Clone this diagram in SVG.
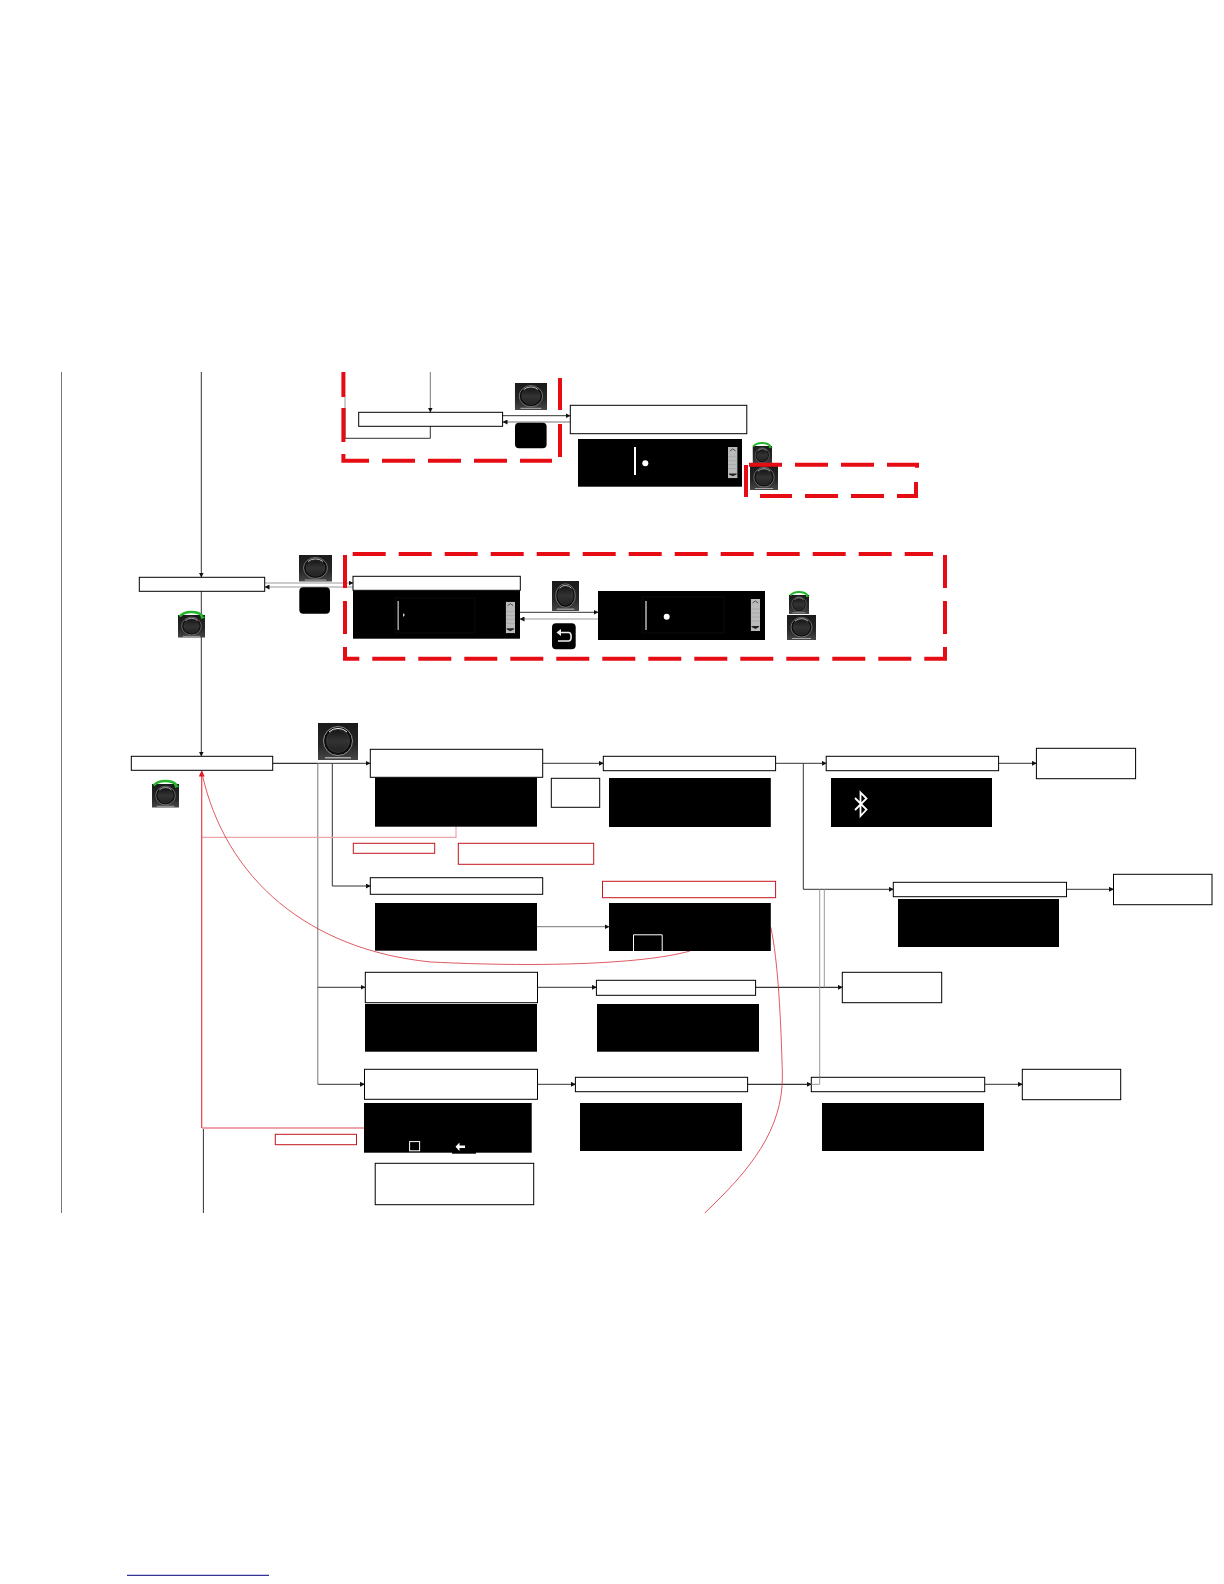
<svg xmlns="http://www.w3.org/2000/svg" width="1224" height="1584" viewBox="0 0 1224 1584">
<style>
.b{fill:#fff;stroke:#000;stroke-width:1}
.r{fill:#fff;stroke:#c4161c;stroke-width:1}
.s{fill:#000}
.c{fill:none;stroke:#333;stroke-width:1}
.g{fill:none;stroke:#999;stroke-width:1}
.k{fill:none;stroke:#000;stroke-width:1}
.p{fill:none;stroke:#eda5ab;stroke-width:1.2}
.rl{fill:none;stroke:#d8303a;stroke-width:.8}
.d{fill:none;stroke:#e60c14;stroke-width:4;stroke-dasharray:33 13}
.w{fill:#fff}
</style>
<defs>
<marker id="a" markerWidth="5" markerHeight="5" refX="4.5" refY="2.5" orient="auto" markerUnits="userSpaceOnUse"><path d="M0,0L5,2.5L0,5z" fill="#111"/></marker>
<marker id="ar" markerWidth="6" markerHeight="6" refX="5.5" refY="3" orient="auto" markerUnits="userSpaceOnUse"><path d="M0,0L6,3L0,6z" fill="#e8101c"/></marker>
<linearGradient id="kg" x1="0" y1="0" x2="0" y2="1"><stop offset="0" stop-color="#151515"/><stop offset=".5" stop-color="#333"/><stop offset="1" stop-color="#222"/></linearGradient>
<linearGradient id="kb" x1="0" y1="0" x2="0" y2="1"><stop offset="0" stop-color="#1a1a1a"/><stop offset=".6" stop-color="#262626"/><stop offset="1" stop-color="#474747"/></linearGradient>
<symbol id="knob" viewBox="0 0 40 37" preserveAspectRatio="none">
<rect width="40" height="37" fill="url(#kb)"/>
<circle cx="20" cy="18" r="14.5" fill="#0c0c0c" stroke="#8f8f8f" stroke-width="1"/>
<circle cx="20" cy="18" r="11.5" fill="url(#kg)" stroke="#444" stroke-width=".6"/>
<path d="M11,9A13,13 0 0 1 29,9" fill="none" stroke="#eee" stroke-width="1"/>
<rect x="7" y="34" width="26" height="1.5" fill="#aaa"/>
</symbol>
<symbol id="scroll" viewBox="0 0 10 32" preserveAspectRatio="none">
<rect width="10" height="32" fill="#bbb"/>
<path d="M2,4L5,2L8,4" fill="none" stroke="#333" stroke-width=".8"/>
<path d="M1,27H9V28L5,30L1,28z" fill="#222"/>
<path d="M0,10H10M0,14H10M0,18H10M0,22H10" stroke="#999" stroke-width=".5"/>
</symbol>
<g id="green"><path d="M1,6.5C6,0.5 19,0.5 24,6" fill="none" stroke="#25b52a" stroke-width="2.6"/><path d="M21,4.5L27,7.5L22.5,9z" fill="#25b52a"/></g>
</defs>
<g id="connectors">
<line x1="61.5" y1="372" x2="61.5" y2="1213" stroke="#777" stroke-width="1"/>
<path class="c" d="M201.3,372V577" marker-end="url(#a)"/>
<path class="c" d="M201.3,591V756" marker-end="url(#a)"/>
<path class="g" d="M430.3,372V412" style="stroke:#777" marker-end="url(#a)"/>
<path class="c" d="M430.3,426V438.3H345V408"/>
<path class="g" d="M345,397V408"/>
<path class="c" d="M499,415.7H570" marker-end="url(#a)"/>
<path class="g" d="M570,422H503" style="stroke:#777" marker-end="url(#a)"/>
<path class="g" d="M265,583H353" marker-end="url(#a)"/>
<path class="g" d="M353,587H265" marker-end="url(#a)"/>
<path class="c" d="M520,612.3H598" marker-end="url(#a)"/>
<path class="g" d="M598,619H520" marker-end="url(#a)"/>
<path class="k" d="M272.7,763.3H318"/>
<path class="c" d="M318,763.3H370" marker-end="url(#a)"/>
<path class="g" d="M317.8,763.3V1084.3" style="stroke:#777"/>
<path class="c" d="M332.3,763.3V886H370.3" marker-end="url(#a)"/>
<path class="c" d="M317.8,987.3H365" marker-end="url(#a)"/>
<path class="c" d="M317.8,1084.3H364.5" marker-end="url(#a)"/>
<path class="c" d="M542.7,763.3H603.3" marker-end="url(#a)"/>
<path class="g" d="M537,926.7H609" style="stroke:#777" marker-end="url(#a)"/>
<path class="c" d="M537.5,987.3H596.4" marker-end="url(#a)"/>
<path class="c" d="M537.5,1084.3H575.4" marker-end="url(#a)"/>
<path class="c" d="M775.6,763.3H826.2" marker-end="url(#a)"/>
<path class="c" d="M803.3,763.3V889.3H893.3" marker-end="url(#a)"/>
<path class="c" d="M998.6,763.3H1036.4" marker-end="url(#a)"/>
<path class="c" d="M1066.5,889.3H1113.5" marker-end="url(#a)"/>
<path class="k" d="M755.6,987.3H842.3" marker-end="url(#a)"/>
<path class="k" d="M747.6,1084.3H811.3" marker-end="url(#a)"/>
<path class="c" d="M984.7,1084.3H1022.3" marker-end="url(#a)"/>
<path class="g" d="M824.3,889.3V987.3"/>
<path class="g" d="M819.7,889.3V1084.3H811.3"/>
<path class="c" d="M203.4,1128V1213"/>
<path class="p" d="M201.7,837.3H456V826.7"/>
<path class="p" d="M202.2,1128H364" style="stroke-width:2"/>
<path d="M201.7,1128V771" fill="none" stroke="#e8404a" stroke-width="1.2" marker-end="url(#ar)"/>
<path class="rl" d="M201.7,772C225,880 310,950 431,962C530,967 640,965 690,951"/>
<path class="rl" d="M770.8,927.3C778,960 781,1020 782.4,1075C783,1130 750,1170 704.7,1213"/>
<line x1="127" y1="1575.3" x2="269" y2="1575.3" stroke="#00007f" stroke-width="1"/>
</g>
<g id="frame-top">
<path class="d" d="M343.4,372V397M343.4,408V442" style="stroke-dasharray:none"/>
<path class="d" d="M343.4,454V460.7H369" style="stroke-dasharray:none"/>
<path class="d" d="M382,460.7H552"/>
<path class="d" d="M560,378V410M560,424V457" style="stroke-dasharray:none"/>
</g>
<g id="frame-mid">
<path class="d" d="M352.7,554H933"/>
<path class="d" d="M945,555V658.7"/>
<path class="d" d="M947,658.7H343" style="stroke-dashoffset:10.3"/>
<path class="d" d="M345,660V554" style="stroke-dashoffset:20"/>
</g>
<g id="node-a"><rect class="b" x="358.7" y="412.3" width="143.9" height="14"/></g>
<g id="node-b"><rect class="b" x="570.3" y="405.3" width="176.5" height="28.4"/></g>
<g id="screen-b"><rect class="s" x="578" y="439" width="164" height="47.7"/><rect class="w" x="634" y="447" width="2" height="28"/><circle class="w" cx="645.3" cy="463.3" r="3"/><use href="#scroll" x="728" y="447" width="9.6" height="31.3"/></g>
<g id="knob-1"><use href="#knob" x="514.8" y="383" width="32.2" height="27"/></g>
<g id="btn-1"><rect class="s" x="515" y="422.7" width="31.6" height="25.6" rx="4"/></g>
<g id="knob-2"><use href="#knob" x="752.5" y="446" width="19.5" height="19"/><use href="#green" transform="translate(752.5 441.5) scale(.75)"/></g>
<g id="knob-3"><use href="#knob" x="750" y="465" width="28" height="25"/></g>
<g id="frame-right">
<path class="d" d="M749,464.7H917V469"/>
<path class="d" d="M916,482V496H760"/>
<path class="d" d="M746,465V497" style="stroke-dasharray:none"/>
</g>
<g id="node-c"><rect class="b" x="139.3" y="577.3" width="125.4" height="14"/></g>
<g id="knob-4"><use href="#knob" x="299" y="555" width="33" height="26.7"/></g>
<g id="btn-2"><rect class="s" x="299.3" y="587.3" width="30.7" height="26.4" rx="4"/></g>
<g id="knob-5"><use href="#knob" x="178" y="615" width="27" height="22.7"/><use href="#green" transform="translate(178.7 610)"/></g>
<g id="screen-d"><rect class="s" x="353" y="590.3" width="167" height="48.4"/><rect x="395" y="598" width="80" height="35" fill="none" stroke="#111" stroke-width=".8"/><rect x="397.4" y="601" width="1.6" height="29" fill="#999"/><path d="M403,613L405,615L403,617z" fill="#ccc"/><use href="#scroll" x="505.7" y="601.7" width="9.3" height="31.6"/></g>
<g id="node-d"><rect class="b" x="353" y="576.3" width="167.3" height="14"/></g>
<g id="knob-6"><use href="#knob" x="552" y="581" width="27" height="30"/></g>
<g id="btn-3"><rect class="s" x="552" y="623.3" width="23.7" height="26" rx="4"/><path d="M558,632.5H568.5C572,632.5 572,641 568.5,641H558" fill="none" stroke="#eee" stroke-width="1.6"/><path d="M561,629L556.5,632.5L561,636z" fill="#eee"/></g>
<g id="screen-e"><rect class="s" x="598" y="591" width="167" height="49"/><rect x="642" y="597" width="82" height="36" fill="none" stroke="#111" stroke-width=".8"/><rect x="645.2" y="601" width="1.6" height="29" fill="#aaa"/><circle class="w" cx="666.7" cy="616.7" r="3"/><use href="#scroll" x="750.7" y="599" width="9.3" height="32"/></g>
<g id="knob-7"><use href="#knob" x="789" y="595" width="20" height="19"/><use href="#green" transform="translate(789.5 590.5) scale(.75)"/></g>
<g id="knob-8"><use href="#knob" x="787" y="615" width="29" height="25"/></g>
<g id="node-e"><rect class="b" x="131.3" y="756.3" width="141.4" height="14"/></g>
<g id="knob-9"><use href="#knob" x="152" y="784" width="27" height="23.7"/><use href="#green" transform="translate(152.7 779)"/></g>
<g id="knob-10"><use href="#knob" x="318" y="723" width="40" height="37"/></g>
<g id="screen-f"><rect class="s" x="375" y="777.3" width="162" height="49.4"/></g>
<g id="node-f"><rect class="b" x="370.3" y="749.3" width="172.4" height="28"/></g>
<g id="node-small"><rect class="b" x="551.3" y="778.3" width="48.4" height="29"/></g>
<g id="node-h"><rect class="b" x="603.3" y="756.3" width="172.3" height="14.4"/></g>
<g id="screen-h"><rect class="s" x="609" y="778" width="161.8" height="49"/></g>
<g id="node-i"><rect class="b" x="826.2" y="756.3" width="172.4" height="14.4"/></g>
<g id="screen-i"><rect class="s" x="831" y="778" width="161" height="49"/><path d="M855,798L866.5,809.5L860.5,816V792.5L866.5,798.5L855,810" fill="none" stroke="#fff" stroke-width="1.8"/></g>
<g id="node-j"><rect class="b" x="1036.4" y="748.3" width="99.2" height="30.4"/></g>
<g id="note-1"><rect class="r" x="353.3" y="843.3" width="81.4" height="10"/></g>
<g id="note-2"><rect class="r" x="458.3" y="843.3" width="135.4" height="21"/></g>
<g id="node-g"><rect class="b" x="370.3" y="877.7" width="172.4" height="16.6"/></g>
<g id="screen-g"><rect class="s" x="375" y="903" width="162" height="47.7"/></g>
<g id="note-m"><rect class="r" x="602.5" y="881.3" width="173.1" height="16.4"/></g>
<g id="screen-m"><rect class="s" x="609" y="903" width="161.8" height="48"/><path d="M633.5,951V934.8H662.2V951" fill="none" stroke="#fff" stroke-width="1"/></g>
<g id="node-k"><rect class="b" x="893.3" y="882.3" width="173.2" height="14.4"/></g>
<g id="screen-k"><rect class="s" x="898" y="899" width="161" height="48"/></g>
<g id="node-l"><rect class="b" x="1113.5" y="874.3" width="98.5" height="30.4"/></g>
<g id="node-n"><rect class="b" x="365.3" y="972.3" width="172.2" height="30.4"/></g>
<g id="screen-n"><rect class="s" x="365" y="1004" width="172" height="47.7"/></g>
<g id="node-o"><rect class="b" x="596.4" y="980.3" width="159.2" height="15"/></g>
<g id="screen-o"><rect class="s" x="597" y="1004" width="162" height="47.7"/></g>
<g id="node-u"><rect class="b" x="842.3" y="972.3" width="99.4" height="30.4"/></g>
<g id="node-p"><rect class="b" x="364.5" y="1069.3" width="173" height="30"/></g>
<g id="screen-p"><rect class="s" x="364" y="1103" width="167.7" height="49.7"/><rect class="s" x="452" y="1148" width="24" height="5.7"/><rect x="409.6" y="1141.6" width="10" height="9.2" fill="none" stroke="#fff" stroke-width="1"/><path d="M459.5,1142.5L455.5,1146.7L459.5,1151V1148H465V1145.5H459.5z" fill="#fff"/></g>
<g id="node-r"><rect class="b" x="575.4" y="1077.3" width="172.2" height="14.4"/></g>
<g id="screen-r"><rect class="s" x="580" y="1103" width="162" height="48"/></g>
<g id="node-s"><rect class="b" x="811.3" y="1077.3" width="173.4" height="14.4"/></g>
<path d="M811.3,1084.3H819.7V1077.3" fill="none" stroke="#999" stroke-width="1"/>
<g id="screen-s"><rect class="s" x="822" y="1103" width="162" height="48"/></g>
<g id="node-t"><rect class="b" x="1022.3" y="1069.3" width="98.4" height="30.4"/></g>
<g id="note-3"><rect class="r" x="275.3" y="1134.3" width="81.2" height="10.4"/></g>
<g id="node-q"><rect class="b" x="375.2" y="1163.3" width="158.5" height="41.4"/></g>
</svg>
